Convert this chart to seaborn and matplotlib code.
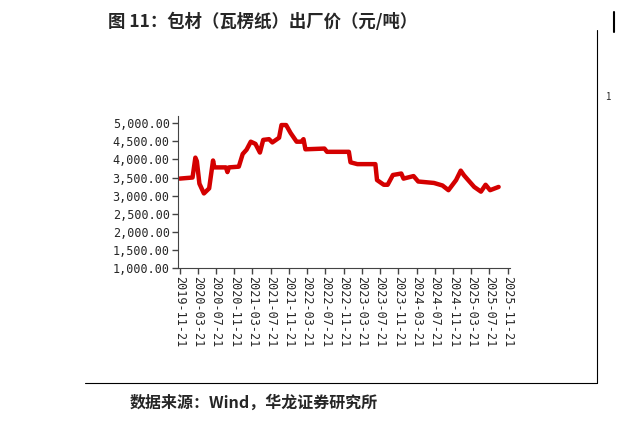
import matplotlib
matplotlib.use("Agg")
import matplotlib.pyplot as plt
from matplotlib.lines import Line2D
import seaborn as sns
import pandas as pd

dates = ["2019-11-21","2020-02-15","2020-03-05","2020-03-15","2020-04-01","2020-05-01","2020-06-05","2020-07-01",
         "2020-07-10","2020-09-25","2020-10-05","2020-10-15","2020-12-20","2021-01-15","2021-02-10","2021-03-10",
         "2021-04-10","2021-05-10","2021-06-01","2021-07-10","2021-08-01","2021-09-15","2021-10-01","2021-11-01",
         "2021-12-01","2022-01-10","2022-02-10","2022-02-25","2022-03-10","2022-07-15","2022-08-01","2022-12-25",
         "2023-01-05","2023-02-20","2023-06-20","2023-07-01","2023-08-15","2023-09-10","2023-10-15","2023-12-10",
         "2023-12-25","2024-03-01","2024-04-01","2024-07-15","2024-09-10","2024-10-20","2024-12-10","2025-01-10",
         "2025-02-01","2025-02-20","2025-04-10","2025-05-25","2025-06-25","2025-07-25","2025-09-20"]
prices = [3470,3500,4050,3950,3330,3060,3200,3970,3780,3780,3650,3780,3800,4150,4270,4490,4430,4190,4540,4560,
          4470,4600,4950,4950,4730,4490,4490,4560,4280,4300,4210,4210,3920,3870,3870,3430,3300,3300,3570,3610,
          3470,3540,3390,3350,3280,3150,3430,3690,3560,3470,3240,3110,3300,3150,3240]
tick_labels = ["2019-11-21","2020-03-21","2020-07-21","2020-11-21","2021-03-21","2021-07-21","2021-11-21",
               "2022-03-21","2022-07-21","2022-11-21","2023-03-21","2023-07-21","2023-11-21","2024-03-21",
               "2024-07-21","2024-11-21","2025-03-21","2025-07-21","2025-11-21"]
tick_dates = pd.to_datetime(tick_labels)

df = pd.DataFrame({"date": pd.to_datetime(dates), "price": prices})
sns.set_style("white")
plt.rcParams['font.family'] = ['Noto Sans CJK SC', 'DejaVu Sans']

fig = plt.figure(figsize=(6.21, 4.23), dpi=100)
ax = fig.add_axes([178/621, 1-268/423, (510-178)/621, (268-116)/423])
sns.lineplot(data=df, x="date", y="price", ax=ax, color="#d40000", linewidth=3.2)
ax.set_ylim(1000, 5200)
ax.set_yticks(range(1000, 5001, 500))
ax.set_yticklabels([f"{v:,.2f}" for v in range(1000, 5001, 500)], fontsize=8.5, family="DejaVu Sans Mono")
ax.set_xlim(pd.Timestamp("2019-11-10"), pd.Timestamp("2025-12-05"))
ax.set_xticks(tick_dates)
ax.set_xticklabels(tick_labels, rotation=-90, fontsize=8.5, family="DejaVu Sans Mono")
ax.set_xlabel(""); ax.set_ylabel("")
for s in ["top", "right"]:
    ax.spines[s].set_visible(False)
for s in ["left", "bottom"]:
    ax.spines[s].set_color("#444444")
ax.tick_params(axis="both", length=4, width=1, color="#444444", direction="out", bottom=True, left=True, pad=2)

fig.text(108/621, 1-22/423, "图 11：包材（瓦楞纸）出厂价（元/吨）", fontsize=12.5, fontweight="bold", va="center")
fig.text(130/621, 1-403/423, "数据来源：Wind，华龙证券研究所", fontsize=11.5, fontweight="bold", va="center")
fig.add_artist(Line2D([85/621, 597/621], [1-383/423]*2, color="black", lw=0.8))
fig.add_artist(Line2D([597/621]*2, [1-30/423, 1-383/423], color="black", lw=0.8))
fig.text(605/621, 1-100/423, "1", fontsize=7)
fig.add_artist(Line2D([614/621]*2, [1-12/423, 1-32/423], color="black", lw=1.5))
fig.savefig("out.png", dpi=100)
